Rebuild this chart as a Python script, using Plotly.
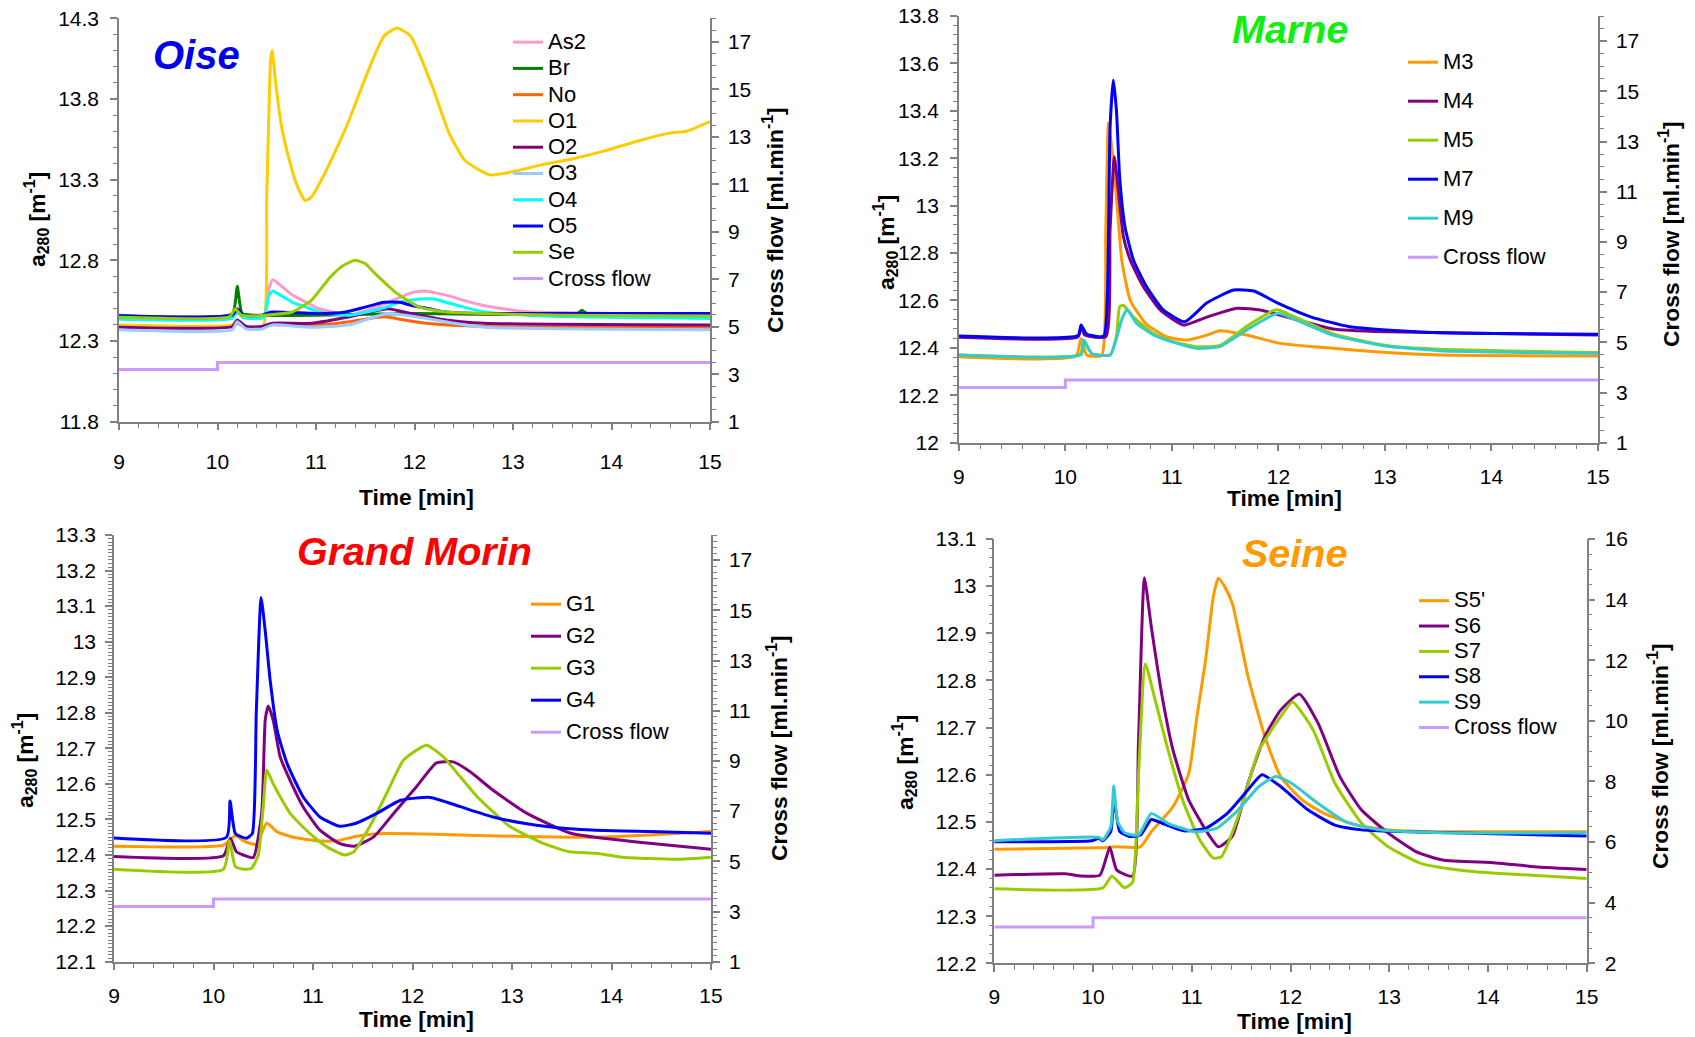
import plotly.graph_objects as go

W, H = 1695, 1037

# ---------------- shared ----------------
cf_t = [9.0, 10.0, 10.0, 15.0]
cf_v = [3.2, 3.2, 3.5, 3.5]

# ---------------- Oise ----------------
oise_names = ["As2", "Br", "No", "O1", "O2", "O3", "O4", "O5", "Se"]
oise_colors = ["#FF99CC", "#008000", "#FF6600", "#FFCC00", "#800080",
               "#99CCFF", "#00FFFF", "#0000FF", "#99CC00"]

t_As2 = [9.0, 10.15, 10.2, 10.26, 10.47, 10.52, 10.56, 10.65, 10.76, 10.9, 11.03, 11.34, 11.66, 11.85, 11.97, 12.1, 12.2, 12.35, 12.51, 12.7, 12.9, 13.2, 13.49, 15.0]
a_As2 = [12.447, 12.45, 12.49, 12.45, 12.45, 12.62, 12.68, 12.64, 12.585, 12.54, 12.50, 12.46, 12.52, 12.57, 12.60, 12.61, 12.60, 12.58, 12.55, 12.52, 12.50, 12.48, 12.476, 12.46]

t_Br = [9.0, 10.15, 10.2, 10.25, 10.35, 11.0, 12.0, 13.65, 13.7, 13.75, 15.0]
a_Br = [12.46, 12.47, 12.64, 12.47, 12.46, 12.46, 12.47, 12.47, 12.49, 12.47, 12.47]

t_No = [9.0, 10.15, 10.2, 10.29, 10.45, 10.56, 11.15, 11.45, 11.69, 11.9, 12.12, 12.71, 15.0]
a_No = [12.39, 12.39, 12.41, 12.385, 12.385, 12.40, 12.405, 12.43, 12.45, 12.43, 12.41, 12.39, 12.385]

t_O1 = [9.0, 10.15, 10.2, 10.25, 10.3, 10.46, 10.5, 10.54, 10.555, 10.59, 10.65, 10.73, 10.81, 10.89, 10.95, 11.09, 11.31, 11.52, 11.69, 11.82, 11.96, 12.18, 12.35, 12.51, 12.76, 13.0, 13.28, 13.61, 13.94, 14.27, 14.6, 14.76, 15.0]
a_O1 = [12.40, 12.40, 12.43, 12.40, 12.38, 12.38, 13.20, 14.05, 14.10, 13.90, 13.63, 13.42, 13.26, 13.17, 13.19, 13.34, 13.63, 13.96, 14.19, 14.24, 14.19, 13.88, 13.59, 13.42, 13.33, 13.35, 13.39, 13.43, 13.48, 13.54, 13.59, 13.60, 13.66]

t_O2 = [9.0, 10.15, 10.2, 10.29, 10.45, 10.56, 10.95, 11.34, 11.55, 11.73, 11.97, 12.32, 12.71, 15.0]
a_O2 = [12.385, 12.39, 12.43, 12.39, 12.39, 12.41, 12.41, 12.45, 12.48, 12.50, 12.47, 12.43, 12.41, 12.40]

t_O3 = [9.0, 10.15, 10.2, 10.29, 10.45, 10.56, 10.95, 11.34, 11.55, 11.73, 12.12, 12.4, 12.71, 15.0]
a_O3 = [12.37, 12.37, 12.42, 12.375, 12.375, 12.40, 12.385, 12.40, 12.44, 12.47, 12.44, 12.41, 12.385, 12.37]

t_O4 = [9.0, 10.15, 10.2, 10.26, 10.47, 10.52, 10.56, 10.65, 10.76, 10.9, 11.03, 11.34, 11.66, 11.85, 12.05, 12.2, 12.32, 12.5, 12.71, 13.3, 15.0]
a_O4 = [12.435, 12.44, 12.48, 12.445, 12.445, 12.58, 12.61, 12.58, 12.54, 12.51, 12.48, 12.46, 12.50, 12.54, 12.56, 12.56, 12.54, 12.51, 12.48, 12.455, 12.44]

t_O5 = [9.0, 10.15, 10.2, 10.26, 10.45, 10.55, 11.0, 11.3, 11.5, 11.69, 11.85, 11.97, 12.15, 12.32, 12.7, 15.0]
a_O5 = [12.455, 12.46, 12.50, 12.46, 12.46, 12.48, 12.47, 12.48, 12.51, 12.54, 12.54, 12.52, 12.50, 12.48, 12.47, 12.47]

t_Se = [9.0, 10.12, 10.18, 10.24, 10.3, 10.48, 10.76, 10.95, 11.15, 11.28, 11.4, 11.5, 11.58, 11.7, 11.81, 12.05, 12.32, 12.71, 13.5, 15.0]
a_Se = [12.447, 12.45, 12.50, 12.46, 12.455, 12.46, 12.48, 12.55, 12.70, 12.77, 12.80, 12.78, 12.73, 12.66, 12.60, 12.51, 12.48, 12.47, 12.46, 12.455]

oise_t = [t_As2, t_Br, t_No, t_O1, t_O2, t_O3, t_O4, t_O5, t_Se]
oise_a = [a_As2, a_Br, a_No, a_O1, a_O2, a_O3, a_O4, a_O5, a_Se]

# ---------------- Marne ----------------
marne_names = ["M3", "M4", "M5", "M7", "M9"]
marne_colors = ["#FF9900", "#800080", "#99CC00", "#0000FF", "#33CCCC"]

t_M3 = [9.0, 10.1, 10.148, 10.2, 10.34, 10.38, 10.405, 10.45, 10.49, 10.53, 10.61, 10.76, 10.95, 11.14, 11.33, 11.45, 11.7, 12.02, 12.51, 13.01, 13.51, 15.0]
a_M3 = [12.363, 12.365, 12.44, 12.37, 12.368, 12.90, 13.35, 13.19, 12.98, 12.77, 12.60, 12.50, 12.447, 12.433, 12.454, 12.472, 12.454, 12.419, 12.398, 12.38, 12.37, 12.366]

t_M4 = [9.0, 10.12, 10.148, 10.18, 10.38, 10.42, 10.46, 10.5, 10.545, 10.61, 10.73, 10.89, 11.11, 11.33, 11.61, 11.83, 12.0, 12.51, 13.01, 15.0]
a_M4 = [12.445, 12.447, 12.496, 12.455, 12.447, 12.90, 13.206, 13.05, 12.87, 12.77, 12.66, 12.56, 12.496, 12.53, 12.567, 12.56, 12.54, 12.48, 12.468, 12.454]

t_M5 = [9.0, 10.14, 10.17, 10.25, 10.42, 10.48, 10.51, 10.545, 10.64, 10.83, 11.01, 11.23, 11.45, 11.7, 11.95, 12.0, 12.51, 13.01, 13.51, 15.0]
a_M5 = [12.37, 12.372, 12.426, 12.375, 12.37, 12.45, 12.574, 12.58, 12.53, 12.46, 12.426, 12.405, 12.41, 12.49, 12.557, 12.56, 12.46, 12.41, 12.394, 12.38]

t_M7 = [9.0, 10.12, 10.148, 10.2, 10.36, 10.395, 10.42, 10.45, 10.48, 10.51, 10.56, 10.64, 10.76, 10.92, 11.12, 11.33, 11.58, 11.77, 11.99, 12.31, 12.66, 13.01, 13.51, 15.0]
a_M7 = [12.45, 12.452, 12.496, 12.458, 12.45, 12.63, 13.33, 13.53, 13.40, 13.12, 12.91, 12.77, 12.66, 12.56, 12.51, 12.59, 12.644, 12.64, 12.59, 12.53, 12.49, 12.475, 12.464, 12.458]

t_M9 = [9.0, 10.15, 10.175, 10.25, 10.42, 10.48, 10.53, 10.58, 10.67, 10.83, 11.05, 11.23, 11.45, 11.7, 11.95, 12.0, 12.51, 13.01, 13.51, 15.0]
a_M9 = [12.37, 12.372, 12.433, 12.375, 12.37, 12.44, 12.52, 12.562, 12.503, 12.454, 12.419, 12.398, 12.405, 12.475, 12.539, 12.546, 12.454, 12.408, 12.388, 12.377]

marne_t = [t_M3, t_M4, t_M5, t_M7, t_M9]
marne_a = [a_M3, a_M4, a_M5, a_M7, a_M9]

# ---------------- Grand Morin ----------------
gm_names = ["G1", "G2", "G3", "G4"]
gm_colors = ["#FF9900", "#800080", "#99CC00", "#0000FF"]

t_G1 = [9.0, 10.1, 10.22, 10.3, 10.43, 10.535, 10.64, 10.8, 11.04, 11.24, 11.44, 11.64, 11.98, 12.65, 13.58, 13.84, 14.38, 15.0]
a_G1 = [12.425, 12.428, 12.455, 12.44, 12.43, 12.49, 12.465, 12.45, 12.44, 12.44, 12.453, 12.46, 12.46, 12.455, 12.45, 12.45, 12.456, 12.466]

t_G2 = [9.0, 10.1, 10.17, 10.23, 10.3, 10.4, 10.485, 10.52, 10.55, 10.6, 10.67, 10.77, 10.9, 11.07, 11.27, 11.42, 11.61, 11.81, 12.04, 12.24, 12.41, 12.58, 12.81, 13.15, 13.58, 13.84, 14.38, 15.0]
a_G2 = [12.396, 12.398, 12.447, 12.409, 12.40, 12.393, 12.52, 12.78, 12.819, 12.779, 12.676, 12.61, 12.536, 12.47, 12.432, 12.425, 12.451, 12.517, 12.592, 12.659, 12.662, 12.634, 12.582, 12.517, 12.462, 12.45, 12.433, 12.416]

t_G3 = [9.0, 10.1, 10.16, 10.22, 10.3, 10.38, 10.45, 10.5, 10.535, 10.6, 10.67, 10.77, 10.97, 11.14, 11.32, 11.41, 11.57, 11.74, 11.91, 12.14, 12.31, 12.48, 12.65, 12.98, 13.32, 13.58, 13.84, 14.11, 14.66, 15.0]
a_G3 = [12.36, 12.36, 12.44, 12.367, 12.36, 12.362, 12.40, 12.535, 12.639, 12.60, 12.564, 12.517, 12.46, 12.423, 12.40, 12.409, 12.48, 12.573, 12.667, 12.709, 12.676, 12.62, 12.564, 12.48, 12.432, 12.409, 12.405, 12.394, 12.388, 12.394]

t_G4 = [9.0, 10.13, 10.166, 10.22, 10.33, 10.39, 10.43, 10.478, 10.52, 10.57, 10.64, 10.74, 10.9, 11.07, 11.27, 11.44, 11.64, 11.88, 12.18, 12.48, 12.81, 13.15, 13.58, 13.84, 14.38, 15.0]
a_G4 = [12.448, 12.45, 12.552, 12.46, 12.447, 12.46, 12.80, 13.124, 13.03, 12.89, 12.75, 12.657, 12.564, 12.507, 12.481, 12.49, 12.517, 12.554, 12.562, 12.536, 12.507, 12.488, 12.474, 12.47, 12.466, 12.461]

gm_t = [t_G1, t_G2, t_G3, t_G4]
gm_a = [a_G1, a_G2, a_G3, a_G4]

# ---------------- Seine ----------------
seine_names = ["S5'", "S6", "S7", "S8", "S9"]
seine_colors = ["#FF9900", "#800080", "#99CC00", "#0000FF", "#33CCCC"]

t_S5 = [9.0, 10.07, 10.16, 10.24, 10.48, 10.59, 10.81, 10.97, 11.05, 11.14, 11.22, 11.27, 11.33, 11.41, 11.57, 11.74, 11.9, 12.12, 12.34, 12.67, 12.99, 13.54, 15.0]
a_S5 = [12.442, 12.445, 12.446, 12.447, 12.447, 12.479, 12.532, 12.603, 12.72, 12.843, 12.98, 13.017, 13.0, 12.964, 12.808, 12.681, 12.596, 12.546, 12.518, 12.493, 12.483, 12.479, 12.479]

t_S6 = [9.0, 9.72, 9.88, 10.07, 10.17, 10.24, 10.4, 10.46, 10.52, 10.59, 10.7, 10.81, 10.97, 11.14, 11.27, 11.41, 11.57, 11.74, 11.9, 12.09, 12.28, 12.5, 12.72, 12.99, 13.27, 13.54, 14.08, 14.47, 15.0]
a_S6 = [12.387, 12.39, 12.385, 12.387, 12.446, 12.398, 12.385, 12.667, 13.018, 12.914, 12.766, 12.652, 12.546, 12.483, 12.447, 12.469, 12.582, 12.681, 12.737, 12.771, 12.709, 12.596, 12.525, 12.476, 12.437, 12.419, 12.413, 12.405, 12.399]

t_S7 = [9.0, 10.1, 10.19, 10.32, 10.4, 10.46, 10.53, 10.62, 10.76, 10.92, 11.08, 11.22, 11.3, 11.47, 11.68, 11.9, 12.02, 12.23, 12.45, 12.72, 12.99, 13.32, 13.7, 14.08, 15.0]
a_S7 = [12.358, 12.36, 12.385, 12.36, 12.372, 12.596, 12.835, 12.766, 12.652, 12.539, 12.462, 12.423, 12.426, 12.511, 12.652, 12.723, 12.754, 12.695, 12.582, 12.497, 12.447, 12.412, 12.398, 12.391, 12.38]

t_S8 = [9.0, 9.99, 10.06, 10.1, 10.18, 10.21, 10.27, 10.37, 10.48, 10.59, 10.7, 10.92, 11.14, 11.36, 11.57, 11.71, 11.9, 12.18, 12.45, 12.72, 12.99, 15.0]
a_S8 = [12.458, 12.46, 12.465, 12.46, 12.48, 12.55, 12.48, 12.469, 12.472, 12.505, 12.497, 12.481, 12.486, 12.518, 12.568, 12.60, 12.575, 12.525, 12.493, 12.483, 12.48, 12.47]

t_S9 = [9.0, 10.06, 10.1, 10.18, 10.21, 10.25, 10.32, 10.46, 10.59, 10.76, 11.03, 11.25, 11.47, 11.68, 11.85, 12.01, 12.28, 12.56, 12.88, 13.54, 15.0]
a_S9 = [12.46, 12.467, 12.462, 12.49, 12.576, 12.50, 12.477, 12.472, 12.518, 12.497, 12.479, 12.486, 12.525, 12.575, 12.596, 12.582, 12.539, 12.50, 12.484, 12.477, 12.477]

seine_t = [t_S5, t_S6, t_S7, t_S8, t_S9]
seine_a = [a_S5, a_S6, a_S7, a_S8, a_S9]

CF_COLOR = "#CC99FF"
FONT = "Liberation Sans, Arial, sans-serif"
AX = "#808080"
LEG_TXT = 22  # rendered legend text size
TICK_SIZE = 21
ATITLE_SIZE = 22.8


def px(x):
    return x / W


def py(y):
    return 1 - y / H


def leg_name(n):
    return f'<span style="font-size:{LEG_TXT}px">{n}</span>'


fig = go.Figure()

panels = [
    (oise_names, oise_colors, oise_t, oise_a, "x", "y", "y2", "legend"),
    (marne_names, marne_colors, marne_t, marne_a, "x2", "y3", "y4", "legend2"),
    (gm_names, gm_colors, gm_t, gm_a, "x3", "y5", "y6", "legend3"),
    (seine_names, seine_colors, seine_t, seine_a, "x4", "y7", "y8", "legend4"),
]

for pi, (names, colors, ts, as_, xa, yl, yr, lg) in enumerate(panels):
    for n, c, t, a in zip(names, colors, ts, as_):
        fig.add_trace(go.Scatter(x=t, y=a, mode="lines", name=leg_name(n),
                                 line=dict(color=c, width=3, shape="spline",
                                           smoothing=0.5),
                                 xaxis=xa, yaxis=yl, legend=lg,
                                 legendgroup=f"{pi}_{n}"))
    fig.add_trace(go.Scatter(x=cf_t, y=cf_v, mode="lines",
                             name=leg_name("Cross flow"),
                             line=dict(color=CF_COLOR, width=3),
                             xaxis=xa, yaxis=yr, legend=lg,
                             legendgroup=f"{pi}_cf"))


def xaxis(dom, anchor, standoff):
    return dict(domain=dom, anchor=anchor, range=[9, 15], tick0=9, dtick=1,
                automargin=False,
                showline=True, linecolor=AX, linewidth=1.5, mirror=False,
                ticks="outside", ticklen=7, tickwidth=1.5, tickcolor=AX,
                minor=dict(dtick=0.2, tick0=9, ticks="outside", ticklen=5,
                           tickcolor=AX, tickwidth=1),
                showgrid=False, zeroline=False, ticklabelstandoff=standoff,
                tickfont=dict(family=FONT, size=TICK_SIZE, color="black"))


def yaxis(dom, anchor, rng, tick0, dtick, mdtick, side="left",
          overlay=None, standoff=6):
    d = dict(domain=dom, anchor=anchor, range=rng, tick0=tick0, dtick=dtick,
             side=side, automargin=False,
             showline=True, linecolor=AX, linewidth=1.5,
             ticks="outside", ticklen=7, tickwidth=1.5, tickcolor=AX,
             minor=dict(dtick=mdtick, tick0=tick0, ticks="outside", ticklen=4,
                        tickcolor=AX, tickwidth=1),
             showgrid=False, zeroline=False, ticklabelstandoff=standoff,
             tickfont=dict(family=FONT, size=TICK_SIZE, color="black"))
    if overlay:
        d["overlaying"] = overlay
    return d


p1x = [px(119), px(710)]
p1y = [py(421.7), py(18.3)]
p2x = [px(958.8), px(1598)]
p2y = [py(442.7), py(16)]
p3x = [px(114), px(711)]
p3y = [py(961.7), py(535)]
p4x = [px(994.3), px(1586.7)]
p4y = [py(963.3), py(539)]

leg_common = dict(bgcolor="rgba(0,0,0,0)", borderwidth=0, itemwidth=30,
                  xanchor="left", yanchor="top")

fig.update_layout(
    width=W, height=H,
    margin=dict(l=0, r=0, t=0, b=0, pad=0, autoexpand=False),
    paper_bgcolor="white", plot_bgcolor="white",
    font=dict(family=FONT, color="black"),
    xaxis=xaxis(p1x, "y", 13),
    yaxis=yaxis(p1y, "x", [11.8, 14.3], 11.8, 0.5, 0.1, standoff=7),
    yaxis2=yaxis(p1y, "x", [1, 18], 1, 2, 0.5, side="right", overlay="y", standoff=5),
    xaxis2=xaxis(p2x, "y3", 7),
    yaxis3=yaxis(p2y, "x2", [12, 13.8], 12, 0.2, 0.04, standoff=7),
    yaxis4=yaxis(p2y, "x2", [1, 18], 1, 2, 0.5, side="right", overlay="y3", standoff=5),
    xaxis3=xaxis(p3x, "y5", 7),
    yaxis5=yaxis(p3y, "x3", [12.1, 13.3], 12.1, 0.1, 0.01, standoff=5),
    yaxis6=yaxis(p3y, "x3", [1, 18], 1, 2, 0.25, side="right", overlay="y5", standoff=5),
    xaxis4=xaxis(p4x, "y7", 7),
    yaxis7=yaxis(p4y, "x4", [12.2, 13.1], 12.2, 0.1, 0.02, standoff=5),
    yaxis8=yaxis(p4y, "x4", [2, 16], 2, 2, 0.5, side="right", overlay="y7", standoff=5),
    legend=dict(x=px(508), y=py(24), font=dict(family=FONT, size=17.9),
                tracegroupgap=0, traceorder="normal", **leg_common),
    legend2=dict(x=px(1403), y=py(44), font=dict(family=FONT, size=18),
                 tracegroupgap=12.6, traceorder="grouped", **leg_common),
    legend3=dict(x=px(526), y=py(586), font=dict(family=FONT, size=18),
                 tracegroupgap=5.6, traceorder="grouped", **leg_common),
    legend4=dict(x=px(1414), y=py(583), font=dict(family=FONT, size=17.2),
                 tracegroupgap=0, traceorder="normal", **leg_common),
    showlegend=True,
)

ann = []


def title(text, x, y, color, size):
    ann.append(dict(text=f"<b><i>{text}</i></b>", x=px(x), y=py(y),
                    xref="paper", yref="paper", showarrow=False,
                    xanchor="center", yanchor="middle",
                    font=dict(family=FONT, size=size, color=color)))


def atitle(text, x, y, angle=0):
    ann.append(dict(text=f"<b>{text}</b>", x=px(x), y=py(y),
                    xref="paper", yref="paper", showarrow=False,
                    xanchor="center", yanchor="middle", textangle=angle,
                    font=dict(family=FONT, size=ATITLE_SIZE, color="black")))


title("Oise", 196, 55, "#0000EE", 40)
title("Marne", 1290, 29, "#11EE11", 39.5)
title("Grand Morin", 414, 551, "#FF0000", 39.5)
title("Seine", 1294, 553, "#FF9900", 39.5)

A280 = "a<sub>280</sub> [m<sup>-1</sup>]"
CFT = "Cross flow [ml.min<sup>-1</sup>]"

atitle("Time [min]", 416, 497)
atitle(A280, 37, 220, -90)
atitle(CFT, 774, 220, -90)

atitle("Time [min]", 1284, 498)
atitle(A280, 885, 243, -90)
atitle(CFT, 1670, 234, -90)

atitle("Time [min]", 416, 1019)
atitle(A280, 24, 761, -90)
atitle(CFT, 777, 748, -90)

atitle("Time [min]", 1294, 1021)
atitle(A280, 904, 763, -90)
atitle(CFT, 1658, 756, -90)

fig.update_layout(annotations=ann)

fig.write_html("out.html")
